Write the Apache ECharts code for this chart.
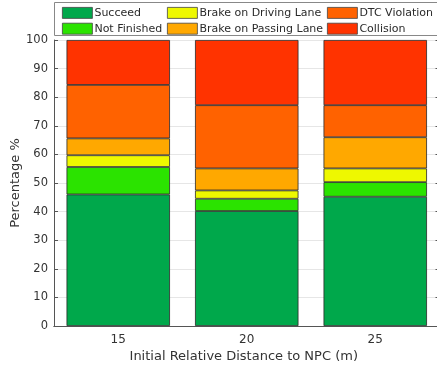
<!DOCTYPE html>
<html>
<head>
<meta charset="utf-8">
<script src="https://cdn.jsdelivr.net/npm/echarts@6/dist/echarts.min.js"></script>
<style>
  html, body { margin: 0; padding: 0; background: #fff; }
  #chart { width: 437px; height: 367px; }
</style>
</head>
<body>
<div id="chart"></div>
<script>
// Outcome shares (%) per initial distance to the NPC
const distances = ['15', '20', '25'];
const succeed        = [46.0, 40.2, 45.2];
const notFinished    = [9.6, 4.3, 5.1];
const brakeDriving   = [4.1, 2.9, 4.8];
const brakePassing   = [5.9, 7.7, 10.9];
const dtcViolation   = [18.7, 22.1, 11.2];
const collision      = [15.7, 22.8, 22.8];
const yTicks = [0, 10, 20, 30, 40, 50, 60, 70, 80, 90, 100];

const seriesNames = ['Succeed', 'Not Finished', 'Brake on Driving Lane',
  'Brake on Passing Lane', 'DTC Violation', 'Collision'];
const seriesData = [succeed, notFinished, brakeDriving, brakePassing, dtcViolation, collision];
const colors = ['#00A84B', '#2BE300', '#EEF800', '#FFA800', '#FF6200', '#FF3300'];

const font = 'DejaVu Sans';
const chart = echarts.init(document.getElementById('chart'), null, { renderer: 'canvas' });

function legendCol(left, names) {
  return {
    orient: 'vertical', left: left, top: 7, padding: 0,
    icon: 'rect', itemWidth: 30, itemHeight: 11, itemGap: 4,
    data: names, selectedMode: false,
    textStyle: { fontFamily: font, fontSize: 11, color: '#2a2a2a', padding: [0, 0, 0, -3] },
    itemStyle: { borderColor: '#444', borderWidth: 0.8 }
  };
}

chart.setOption({
  animation: false,
  color: colors,
  textStyle: { fontFamily: font },
  grid: { left: 54, right: -2.5, top: 40, bottom: 41, outerBoundsMode: 'none', containLabel: false },
  legend: [
    legendCol(62, ['Succeed', 'Not Finished']),
    legendCol(167, ['Brake on Driving Lane', 'Brake on Passing Lane']),
    legendCol(327, ['DTC Violation', 'Collision'])
  ],
  graphic: [{
    type: 'rect', left: 54, top: 2, z: -1,
    shape: { width: 386, height: 33 },
    style: { fill: '#fff', stroke: '#888', lineWidth: 1 }
  }],
  xAxis: [{
    type: 'category', data: distances, position: 'bottom',
    name: 'Initial Relative Distance to NPC (m)', nameLocation: 'middle', nameGap: 24,
    nameMoveOverlap: false,
    nameTextStyle: { fontFamily: font, fontSize: 13, color: '#333', padding: [0, 0, 0, -6] },
    axisLine: { lineStyle: { color: '#555', width: 1 } },
    axisTick: { inside: true, alignWithLabel: true, length: 4, lineStyle: { color: '#555' } },
    axisLabel: { fontFamily: font, fontSize: 12, color: '#333', margin: 8 }
  }, {
    type: 'category', data: distances, position: 'top',
    axisLine: { lineStyle: { color: '#555', width: 1 } },
    axisTick: { inside: true, alignWithLabel: true, length: 4, lineStyle: { color: '#555' } },
    axisLabel: { show: false }
  }],
  yAxis: [{
    type: 'value', min: 0, max: 100, interval: 10, position: 'left',
    name: 'Percentage %', nameLocation: 'middle', nameGap: 32,
    nameMoveOverlap: false,
    nameTextStyle: { fontFamily: font, fontSize: 13, color: '#333' },
    axisLine: { show: true, lineStyle: { color: '#555', width: 1 } },
    axisTick: { show: true, inside: true, length: 4, lineStyle: { color: '#555' } },
    axisLabel: {
      fontFamily: font, fontSize: 11.5, color: '#333', margin: 6,
      formatter: v => (yTicks.indexOf(v) >= 0 ? String(v) : '')
    },
    splitLine: { show: true, lineStyle: { color: '#e6e6e6', width: 1 } }
  }, {
    type: 'value', min: 0, max: 100, interval: 10, position: 'right',
    axisLine: { show: true, lineStyle: { color: '#555', width: 1 } },
    axisTick: { show: true, inside: true, length: 4, lineStyle: { color: '#555' } },
    axisLabel: { show: false },
    splitLine: { show: false }
  }],
  series: seriesNames.map((name, i) => ({
    name: name, type: 'bar', stack: 'total', barWidth: '80.5%',
    data: seriesData[i],
    itemStyle: { color: colors[i], borderColor: '#2a2a2a', borderWidth: 0.8 },
    emphasis: { disabled: true }
  }))
});
</script>
</body>
</html>
